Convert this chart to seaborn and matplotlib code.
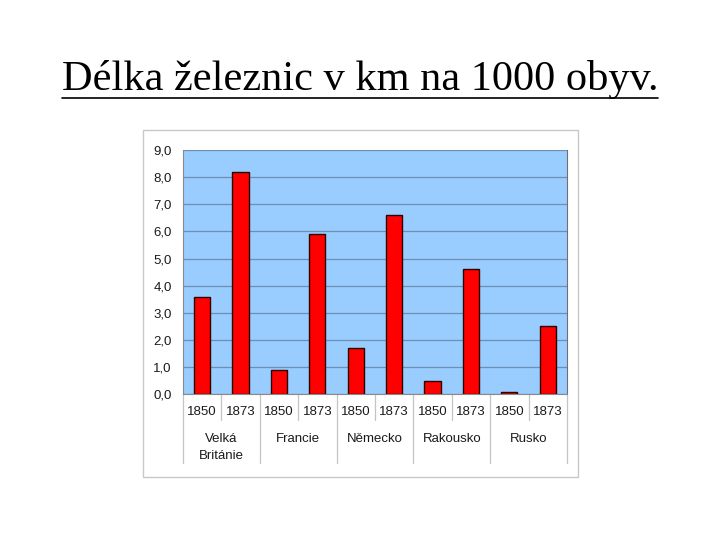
import pandas as pd
import matplotlib
matplotlib.use('Agg')
import matplotlib.pyplot as plt
import matplotlib.patches as mpatches
import seaborn as sns

# data
countries = ['Velká\nBritánie', 'Francie', 'Německo', 'Rakousko', 'Rusko']
years = ['1850', '1873']
values_1850 = [3.6, 0.9, 1.7, 0.5, 0.08]
values_1873 = [8.2, 5.9, 6.6, 4.6, 2.5]
y_ticks = [0, 1, 2, 3, 4, 5, 6, 7, 8, 9]

rows = []
for c, v0, v1 in zip(countries, values_1850, values_1873):
    rows.append({'slot': f'{c}|1850', 'country': c, 'year': '1850', 'value': v0})
    rows.append({'slot': f'{c}|1873', 'country': c, 'year': '1873', 'value': v1})
df = pd.DataFrame(rows)

sns.set_style('white')
plt.rcParams['font.family'] = ['Liberation Sans', 'DejaVu Sans']

fig = plt.figure(figsize=(7.2, 5.4), dpi=100)
ax = fig.add_axes([0.254, 0.270, 0.5335, 0.452])

# outer chart frame
fig.patches.append(mpatches.Rectangle((0.1986, 0.1167), 0.604, 0.6426, transform=fig.transFigure,
                                      fill=False, edgecolor='#C8C8C8', linewidth=1.0))

ax.set_facecolor('#99CCFF')
sns.barplot(data=df, x='slot', y='value', order=df['slot'], color='#FF0000',
            edgecolor='#2A0000', linewidth=1.0, width=0.42, saturation=1, ax=ax)

ax.set_ylim(0, 9)
ax.set_xlim(-0.5, len(df) - 0.5)
ax.set_yticks(y_ticks)
ax.set_yticklabels([f'{t},0' for t in y_ticks])
ax.yaxis.grid(True, color='#6F8FB0', linewidth=0.9)
ax.set_axisbelow(True)
ax.tick_params(axis='y', length=0, pad=8, labelsize=9.5, labelcolor='#1A1A1A')
ax.set_xticks([])
ax.set_xlabel('')
ax.set_ylabel('')
ax.spines['top'].set_visible(False)
ax.spines['left'].set_color('#8A8A8A')
ax.spines['bottom'].set_color('#8A8A8A')
ax.spines['right'].set_color('#707070')

# two-level category labels
trans = ax.get_xaxis_transform()
for i, row in df.iterrows():
    ax.text(i, -0.074, row['year'], transform=trans, ha='center', va='center',
            fontsize=9.5, color='#1A1A1A', clip_on=False)
for k, c in enumerate(countries):
    ax.text(2 * k + 0.5, -0.158, c, transform=trans, ha='center', va='top',
            fontsize=9.5, color='#1A1A1A', linespacing=1.55, clip_on=False)
for j in range(len(df) + 1):
    x = j - 0.5
    bottom = -0.283 if j % 2 == 0 else -0.107
    ax.plot([x, x], [0, bottom], transform=trans, color='#C4C4C4', linewidth=0.9, clip_on=False)

# title with underline
title = fig.text(0.5, 0.852, 'Délka železnic v km na 1000 obyv.', ha='center', va='center',
                 fontsize=30.5, family=['Liberation Serif', 'DejaVu Serif'], color='black')
fig.canvas.draw()
bb = title.get_window_extent().transformed(fig.transFigure.inverted())
fig.add_artist(plt.Line2D([bb.x0, bb.x1], [0.819, 0.819], transform=fig.transFigure,
                          color='black', linewidth=1.2))

fig.savefig('out.png', dpi=100)
